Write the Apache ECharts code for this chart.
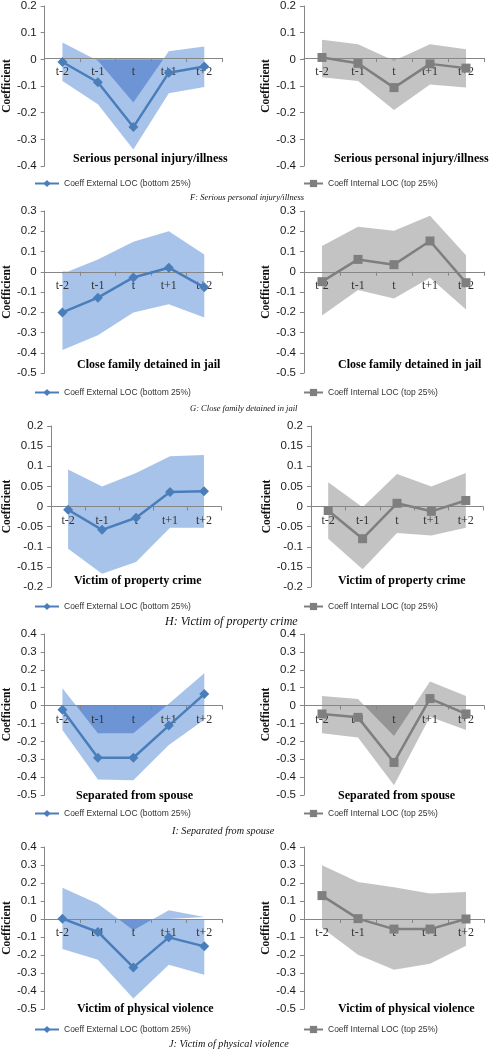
<!DOCTYPE html>
<html><head><meta charset="utf-8">
<script src="https://cdn.jsdelivr.net/npm/echarts@6/dist/echarts.min.js"></script>
<style>html,body{margin:0;padding:0;background:#fff}#c{width:492px;height:1050px}</style>
</head><body><div id="c"></div><script>
// ---------- DATA ----------
const categories = ['t-2', 't-1', 't', 't+1', 't+2'];
const panelTitles = ['Serious personal injury/illness', 'Close family detained in jail', 'Victim of property crime', 'Separated from spouse', 'Victim of physical violence'];
const captions = ['F: Serious personal injury/illness', 'G: Close family detained in jail', 'H: Victim of property crime', 'I: Separated from spouse', 'J: Victim of physical violence'];
const externalName = 'Coeff External LOC (bottom 25%)';
const internalName = 'Coeff Internal LOC (top 25%)';
const yAxisName = 'Coefficient';
const yMin = [-0.4, -0.5, -0.2, -0.5, -0.5];
const yMax = [0.2, 0.3, 0.2, 0.4, 0.4];
const yStep = [0.1, 0.1, 0.05, 0.1, 0.1];

// F: Serious personal injury/illness
const extCoefF  = [-0.010, -0.086, -0.254, -0.050, -0.027];
const extUpperF = [0.063, -0.005, -0.162, 0.030, 0.048];
const extLowerF = [-0.081, -0.168, -0.338, -0.127, -0.104];
const intCoefF  = [0.007, -0.015, -0.106, -0.017, -0.033];
const intUpperF = [0.073, 0.057, -0.005, 0.057, 0.038];
const intLowerF = [-0.067, -0.081, -0.190, -0.094, -0.106];
// G: Close family detained in jail
const extCoefG  = [-0.201, -0.128, -0.028, 0.020, -0.077];
const extUpperG = [-0.010, 0.060, 0.148, 0.200, 0.085];
const extLowerG = [-0.387, -0.313, -0.201, -0.160, -0.226];
const intCoefG  = [-0.049, 0.061, 0.035, 0.152, -0.054];
const intUpperG = [0.127, 0.222, 0.203, 0.277, 0.082];
const intLowerG = [-0.216, -0.090, -0.132, -0.030, -0.186];
// H: Victim of property crime
const extCoefH  = [-0.008, -0.058, -0.028, 0.036, 0.038];
const extUpperH = [0.092, 0.050, 0.083, 0.125, 0.128];
const extLowerH = [-0.105, -0.167, -0.138, -0.053, -0.053];
const intCoefH  = [-0.010, -0.080, 0.008, -0.012, 0.015];
const intUpperH = [0.060, -0.002, 0.081, 0.050, 0.083];
const intLowerH = [-0.080, -0.156, -0.066, -0.072, -0.053];
// I: Separated from spouse
const extCoefI  = [-0.024, -0.292, -0.292, -0.112, 0.064];
const extUpperI = [0.097, -0.155, -0.155, 0.010, 0.180];
const extLowerI = [-0.137, -0.414, -0.418, -0.221, -0.080];
const intCoefI  = [-0.047, -0.066, -0.318, 0.039, -0.047];
const intUpperI = [0.054, 0.036, -0.170, 0.135, 0.054];
const intLowerI = [-0.155, -0.178, -0.446, -0.062, -0.137];
// J: Victim of physical violence
const extCoefJ  = [0.002, -0.072, -0.269, -0.102, -0.152];
const extUpperJ = [0.173, 0.085, -0.063, 0.048, 0.011];
const extLowerJ = [-0.167, -0.226, -0.442, -0.254, -0.310];
const intCoefJ  = [0.130, 0.002, -0.056, -0.056, 0.000];
const intUpperJ = [0.299, 0.206, 0.176, 0.141, 0.150];
const intLowerJ = [-0.048, -0.199, -0.282, -0.249, -0.148];

const extCoef  = [extCoefF, extCoefG, extCoefH, extCoefI, extCoefJ];
const extUpper = [extUpperF, extUpperG, extUpperH, extUpperI, extUpperJ];
const extLower = [extLowerF, extLowerG, extLowerH, extLowerI, extLowerJ];
const intCoef  = [intCoefF, intCoefG, intCoefH, intCoefI, intCoefJ];
const intUpper = [intUpperF, intUpperG, intUpperH, intUpperI, intUpperJ];
const intLower = [intLowerF, intLowerG, intLowerH, intLowerI, intLowerJ];

// ---------- LAYOUT ----------
const rowTop = [4, 211, 426, 634, 847];
const rowHeight = [162, 162, 161, 161, 162];
const leftGrid = [[42, 180], [42, 180], [48, 173], [42, 180], [42, 180]];
const rightGrid = [[304, 180], [304, 180], [311, 172], [304, 180], [304, 180]];
const titleY = [159, 365, 581, 796, 1009];
const titleLeftX = [73, 77, 74, 76, 77];
const titleRightX = [334, 338, 338, 338, 338];
const legendY = [184, 393, 607, 814, 1030];
const captionY = [198, 409, 622, 831, 1044];
const captionX = [190, 190, 165, 172, 169];
const captionSize = [8.5, 8.5, 12, 10.2, 10.2];

const BLUE = '#4a7ebb', BLUE_BAND = '#a7c3ea';
const GREY = '#7f7f7f', GREY_BAND = '#c3c3c3';
const AXIS = '#868686';

const grids = [], xAxes = [], yAxes = [], series = [], titles = [], legends = [];

function addPanel(row, side) {
  const idx = grids.length;
  const g = side === 0 ? leftGrid[row] : rightGrid[row];
  const h = rowHeight[row];
  grids.push({ left: g[0], width: g[1], top: rowTop[row], height: h, containLabel: false });
  // place the category axis on the zero line of the value axis
  const zeroOffset = -h * (0 - yMin[row]) / (yMax[row] - yMin[row]);
  xAxes.push({
    type: 'category', gridIndex: idx, data: categories, boundaryGap: true, position: 'bottom', offset: zeroOffset,
    axisLine: { onZero: false, lineStyle: { color: AXIS, width: 1 } },
    axisTick: { show: true, length: 4, interval: 0, lineStyle: { color: AXIS } },
    axisLabel: { margin: 8, fontFamily: 'Liberation Serif', fontSize: 12, color: '#333', interval: 0 },
    splitLine: { show: false }, z: 1
  });
  yAxes.push({
    type: 'value', gridIndex: idx, min: yMin[row], max: yMax[row], interval: yStep[row],
    name: yAxisName, nameLocation: 'middle', nameRotate: 90,
    nameGap: (row === 2 ? (side === 0 ? 37 : 38) : 31),
    nameTextStyle: { fontFamily: 'Liberation Serif', fontWeight: 'bold', fontSize: 11.5, color: '#111' },
    axisLine: { show: true, onZero: false, lineStyle: { color: AXIS, width: 1 } },
    axisTick: { show: true, length: 4, lineStyle: { color: AXIS } },
    axisLabel: { margin: 8, fontFamily: 'Liberation Sans', fontSize: 11.5, color: '#1a1a1a',
      formatter: v => String(Math.round(v * 1000) / 1000) },
    splitLine: { show: false }
  });
  const up = side === 0 ? extUpper[row] : intUpper[row];
  const lo = side === 0 ? extLower[row] : intLower[row];
  const cf = side === 0 ? extCoef[row] : intCoef[row];
  const bandColor = side === 0 ? BLUE_BAND : GREY_BAND;
  [up, lo].forEach(b => {
    series.push({
      type: 'line', xAxisIndex: idx, yAxisIndex: idx, data: b, symbol: 'none', silent: true,
      lineStyle: { width: 0, opacity: 0 }, areaStyle: { color: bandColor, opacity: 1, origin: 'auto' },
      blendMode: 'multiply', z: 1, animation: false
    });
  });
  series.push({
    name: side === 0 ? externalName : internalName,
    type: 'line', xAxisIndex: idx, yAxisIndex: idx, data: cf,
    symbol: side === 0 ? 'diamond' : 'rect', symbolSize: side === 0 ? 10 : 9,
    color: side === 0 ? BLUE : GREY,
    lineStyle: { width: 2.5, color: side === 0 ? BLUE : GREY },
    itemStyle: { color: side === 0 ? BLUE : GREY },
    z: 3, animation: false
  });
  titles.push({
    text: panelTitles[row], left: side === 0 ? titleLeftX[row] : titleRightX[row], top: titleY[row] - 7, padding: 0,
    textStyle: { fontFamily: 'Liberation Serif', fontWeight: 'bold', fontSize: 12, color: '#000', lineHeight: 14 }
  });
  legends.push({
    data: [side === 0 ? externalName : internalName],
    left: side === 0 ? 34 : 303, top: legendY[row] - 5, padding: 0,
    itemWidth: side === 0 ? 24 : 19, itemHeight: 9, selectedMode: false,
    textStyle: { fontFamily: 'Liberation Sans', fontSize: 8.5, color: '#333' }
  });
}

for (let r = 0; r < 5; r++) { addPanel(r, 0); addPanel(r, 1); }
for (let r = 0; r < 5; r++) {
  titles.push({
    text: captions[r], left: captionX[r], top: captionY[r] - 7, padding: 0,
    textStyle: { fontFamily: 'Liberation Serif', fontStyle: 'italic', fontWeight: 'normal', fontSize: captionSize[r], color: '#111', lineHeight: 14 }
  });
}

const chart = echarts.init(document.getElementById('c'), null, { renderer: 'canvas' });
chart.setOption({
  backgroundColor: '#ffffff', animation: false,
  grid: grids, xAxis: xAxes, yAxis: yAxes, series: series, title: titles, legend: legends
});
</script></body></html>
